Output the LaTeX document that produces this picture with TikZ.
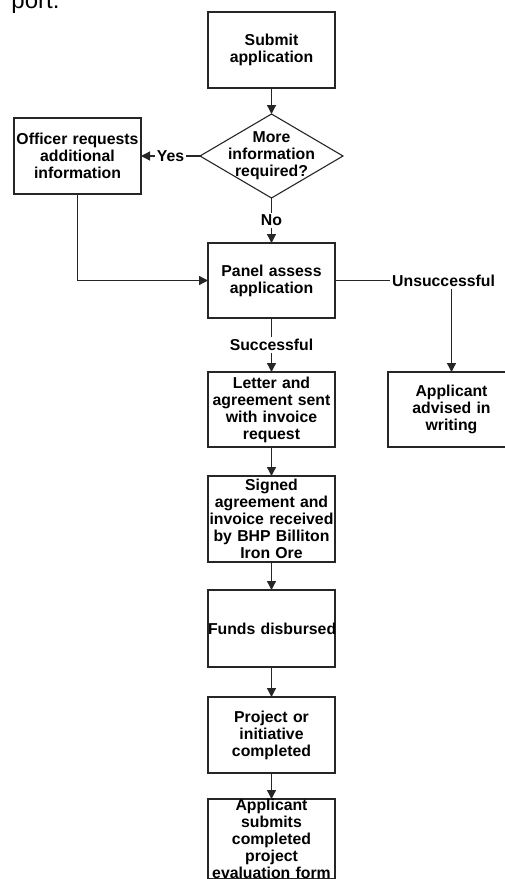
\documentclass[tikz,border=0pt]{standalone}
\usepackage{fontspec}
\setmainfont{Liberation Sans}
\usetikzlibrary{positioning,shapes.geometric,arrows.meta}

\begin{document}
\begin{tikzpicture}[x=1pt, y=1pt,
    every node/.style={font=\bfseries\fontsize{15.8}{17}\selectfont},
    stage/.style={draw=black!85, line width=1.3pt, text width=127pt, minimum height=76pt, inner sep=0pt, outer sep=0pt, align=center},
    ask/.style={draw=black!85, line width=1.1pt, diamond, minimum width=143pt, minimum height=84pt, inner sep=0pt, outer sep=0pt},
    flow/.style={draw=black!85, line width=1.3pt, -{Triangle[length=9pt,width=9pt]}},
    tag/.style={fill=white, inner sep=2pt}]
    \useasboundingbox (0,0) rectangle (504,-879);
    \node[font=\fontsize{24}{24}\selectfont, anchor=base east] (heading) at (63,-8) {port.};
    \node[stage] (submit) at (271.5,-50) {Submit\\application};
    \node[ask, below=26pt of submit, label={[align=center]center:More\\information\\required?}] (more) {};
    \node[stage, left=59pt of more] (officer) {Officer requests\\additional\\information};
    \node[stage, minimum height=75pt, below=45pt of more] (panel) {Panel assess\\application};
    \node[tag, right=55pt of panel] (unsucc) {Unsuccessful};
    \node[stage, minimum height=75pt, below=54pt of panel] (letter) {Letter and\\agreement sent\\with invoice\\request};
    \node[stage, minimum height=75pt, right=53pt of letter] (advised) {Applicant\\advised in\\writing};
    \node[stage, minimum height=86pt, below=29pt of letter] (signed) {Signed\\agreement and\\invoice received\\by BHP Billiton\\Iron Ore};
    \node[stage, minimum height=77pt, below=28pt of signed] (funds) {\mbox{Funds disbursed}};
    \node[stage, below=30pt of funds] (project) {Project or\\initiative\\completed};
    \node[stage, minimum height=80pt, below=26pt of project] (submits) {Applicant\\submits\\completed\\project\\evaluation form};
    \draw[flow] (submit) -- (more);
    \draw[flow] (more.west) -- node[tag] {Yes} (officer.east);
    \draw[flow] (more.south) -- node[tag] {No} (panel.north);
    \draw[flow] (officer.south) |- (panel.west);
    \draw[draw=black!85, line width=1.3pt] (panel.east) -- (unsucc.west);
    \draw[flow] (unsucc.south -| advised.north) -- (advised.north);
    \draw[flow] (panel.south) -- node[tag] {Successful} (letter.north);
    \draw[flow] (letter) -- (signed);
    \draw[flow] (signed) -- (funds);
    \draw[flow] (funds) -- (project);
    \draw[flow] (project) -- (submits);
\end{tikzpicture}
\end{document}
